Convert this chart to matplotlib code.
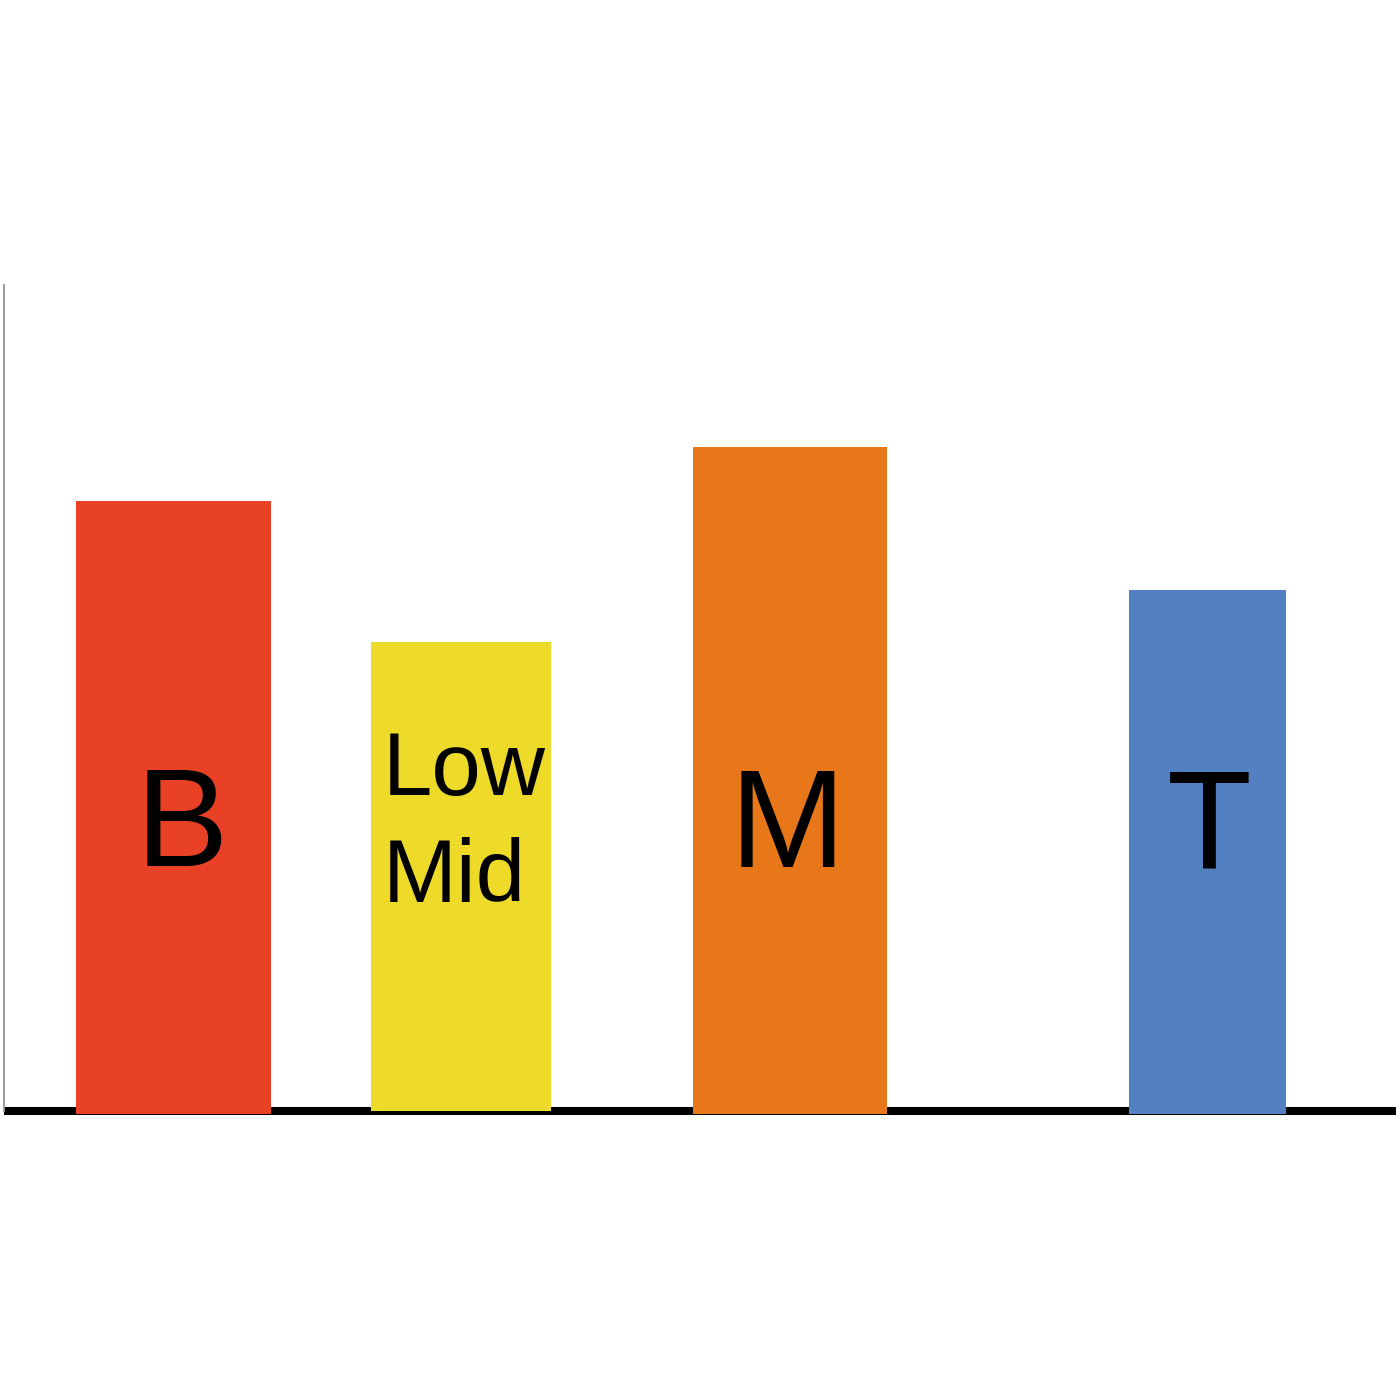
import matplotlib.pyplot as plt

plt.rcParams['font.family'] = ['Liberation Sans', 'DejaVu Sans']

# bar data (x in arbitrary units, heights in arbitrary units)
labels = ["B", "Low\nMid", "M", "T"]
centers = [1.695, 4.57, 7.86, 12.035]
widths = [1.95, 1.80, 1.94, 1.57]
heights = [6.13, 4.69, 6.67, 5.24]
bottoms = [-0.03, 0.0, -0.03, -0.03]
colors = ["#E84126", "#EEDB29", "#E77719", "#5380C0"]

# label placement
label_x = [1.78, 3.79, 7.835, 12.05]
label_y = [2.45, 2.09, 2.44, 2.44]
label_ha = ["center", "left", "center", "center"]
label_size = [100, 64, 100, 100]

fig = plt.figure(figsize=(14, 14), dpi=100)
ax = fig.add_axes([4 / 1400, 289 / 1400, 1392 / 1400, 826 / 1400])

ax.bar(centers, heights, width=widths, bottom=bottoms, color=colors,
       zorder=3, clip_on=False)

for lab, x, y, ha, fs in zip(labels, label_x, label_y, label_ha, label_size):
    ax.text(x, y, lab, ha=ha, va="baseline", fontsize=fs, color="black",
            zorder=4, linespacing=1.36)

ax.set_xlim(0, 13.92)
ax.set_ylim(0, 8.26)

ax.spines['top'].set_visible(False)
ax.spines['right'].set_visible(False)
ax.spines['left'].set_color("#9a9a9a")
ax.spines['left'].set_linewidth(1.4)
ax.spines['bottom'].set_color("black")
ax.spines['bottom'].set_linewidth(5.8)
ax.spines['bottom'].set_capstyle("butt")
ax.spines['bottom'].set_zorder(2)
ax.set_xticks([])
ax.set_yticks([])

fig.savefig("out.png", dpi=100)
